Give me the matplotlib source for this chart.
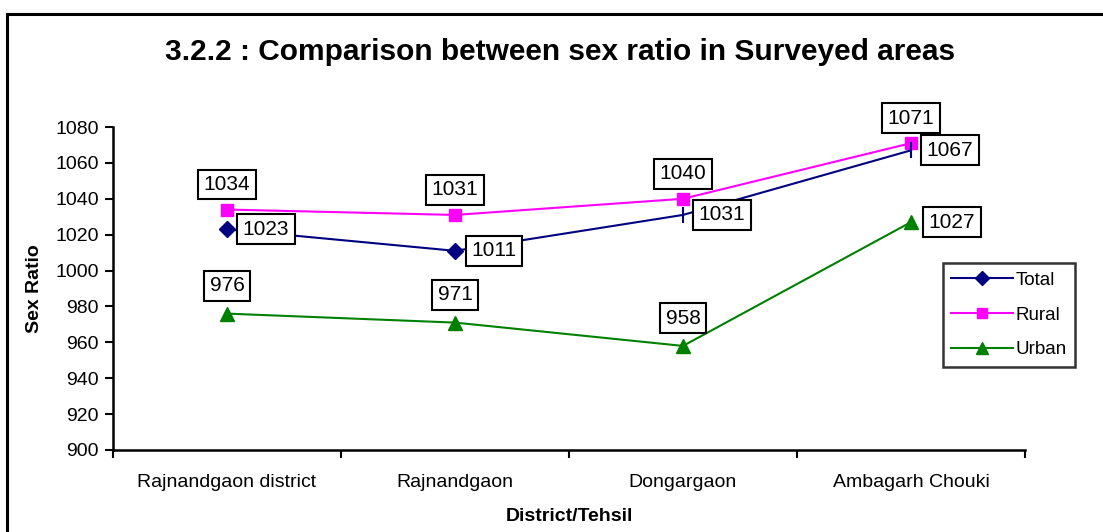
import numpy as np
import matplotlib.pyplot as plt
from matplotlib.patches import Rectangle

plt.rcParams['font.family'] = ['Liberation Sans', 'DejaVu Sans']

places = ["Rajnandgaon district", "Rajnandgaon", "Dongargaon", "Ambagarh Chouki"]
total = [1023, 1011, 1031, 1067]
rural = [1034, 1031, 1040, 1071]
urban = [976, 971, 958, 1027]
yticks = list(range(900, 1081, 20))

fig = plt.figure(figsize=(11.03, 5.32), dpi=100)
ax = fig.add_axes([113/1103, 82/532, 912/1103, 323/532])

x = np.arange(len(places))

# lines
l_tot, = ax.plot(x, total, color='#000080', lw=1.5, marker='D', ms=8, zorder=3)
l_rur, = ax.plot(x, rural, color='#ff00ff', lw=1.5, marker='s', ms=9, zorder=2)
l_urb, = ax.plot(x, urban, color='#008000', lw=1.5, marker='^', ms=10, zorder=2)
# last two Total points show up as thin ticks instead of diamonds
l_tot.set_markevery([0, 1])
ax.plot(x[2:], total[2:], ls='none', marker='|', ms=11, mew=1.5, color='#000080', zorder=3)

box = dict(boxstyle='square,pad=0.26', fc='white', ec='black', lw=1.5)

def label(xi, v, dx, dy):
    ax.annotate(str(v), (xi, v), xytext=(dx, dy), textcoords='offset points',
                ha='center', va='center', fontsize=15, bbox=box, zorder=5)

for i, v in enumerate(rural):
    label(i, v, 0, 18)
for i, v in enumerate(total):
    label(i, v, 28, 0)
for i, v in enumerate(urban):
    if i < 3:
        label(i, v, 0, 20)
    else:
        label(i, v, 29.5, 0)

ax.set_xlim(-0.5, len(places) - 0.5)
ax.set_ylim(900, 1080)
ax.set_yticks(yticks)
ax.set_xticks(x)
ax.set_xticklabels(places, fontsize=14)
ax.set_xticks(np.arange(-0.5, len(places)), minor=True)
ax.tick_params(axis='x', which='major', length=0, pad=17)
ax.tick_params(axis='x', which='minor', length=6, width=1.5, direction='out')
ax.tick_params(axis='y', length=6, width=1.5, direction='out', labelsize=14, pad=4)
for s in ['top', 'right']:
    ax.spines[s].set_visible(False)
for s in ['left', 'bottom']:
    ax.spines[s].set_linewidth(1.8)

ax.set_ylabel("Sex Ratio", fontsize=14, fontweight='bold', labelpad=9)
ax.set_xlabel("District/Tehsil", fontsize=14, fontweight='bold', labelpad=12.5)

fig.text(0.508, 1 - 52/532, "3.2.2 : Comparison between sex ratio in Surveyed areas",
         ha='center', va='center', fontsize=21.5, fontweight='bold')

leg = fig.legend([l_tot, l_rur, l_urb], ["Total", "Rural", "Urban"],
                 loc='upper left', bbox_to_anchor=(943/1103, 1 - 263/532),
                 fontsize=13.5, frameon=True, fancybox=False, edgecolor='black',
                 handlelength=3.3, labelspacing=0.95, borderpad=0.45,
                 handletextpad=0.1, borderaxespad=0, markerscale=0.85)
leg.get_frame().set_linewidth(1.8)

# outer frame of the chart area
fig.patches.append(Rectangle((7/1103, -0.1), 1.2, 1 - 14/532 + 0.1,
                             transform=fig.transFigure, fill=False,
                             ec='black', lw=2.2))

fig.savefig("out.png", dpi=100)
